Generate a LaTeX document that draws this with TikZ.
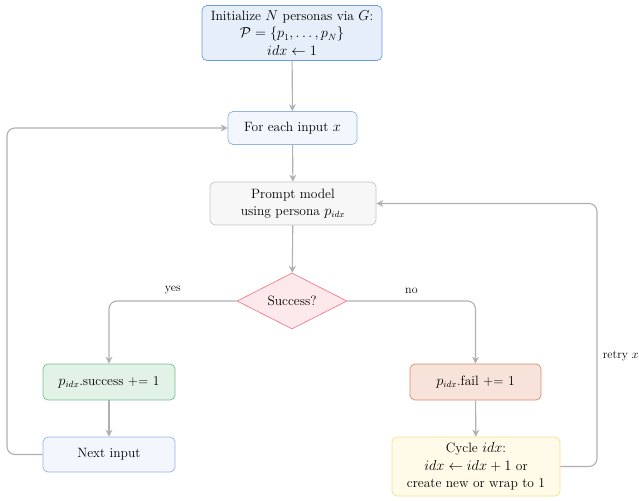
\documentclass[tikz,border=0pt]{standalone}
\usetikzlibrary{shapes.geometric,arrows.meta}
\definecolor{arr}{HTML}{B0B0B0}
\definecolor{initF}{HTML}{E6EEF9}\definecolor{initD}{HTML}{6A9AE0}
\definecolor{inF}{HTML}{F3F7FD}\definecolor{inD}{HTML}{90B4EA}
\definecolor{prF}{HTML}{F7F7F7}\definecolor{prD}{HTML}{C4C4C4}
\definecolor{dmF}{HTML}{FDE9EB}\definecolor{dmD}{HTML}{F27C8A}
\definecolor{suF}{HTML}{E3F2E7}\definecolor{suD}{HTML}{72C08E}
\definecolor{faF}{HTML}{F8E3DA}\definecolor{faD}{HTML}{D88A72}
\definecolor{cyF}{HTML}{FFFBE8}\definecolor{cyD}{HTML}{F5E08E}
\begin{document}
\begin{tikzpicture}[x=1pt,y=-1pt,
  box/.style={rounded corners=5pt,line width=0.7pt,align=center,inner sep=0pt,font=\fontsize{13.5}{17.5}\selectfont},
  flow/.style={draw=arr,line width=1.1pt,-{Stealth[length=7pt,width=7pt]}},
  lbl/.style={font=\fontsize{12}{14}\selectfont}]
\useasboundingbox (0,0) rectangle (639,500);
\node[box,fill=initF,draw=initD,minimum width=180pt,minimum height=55pt] (init) at (292,33)
  {Initialize $N$ personas via $G$:\\ $\mathcal{P}=\{p_1,\dots,p_N\}$\\ $idx\leftarrow 1$};
\node[box,fill=inF,draw=inD,minimum width=129pt,minimum height=33pt] (each) at (292.5,128) {For each input $x$};
\node[box,fill=prF,draw=prD,minimum width=166pt,minimum height=43pt] (prompt) at (293,203.5) {Prompt model\\ using persona $p_{idx}$};
\node[diamond,aspect=2,fill=dmF,draw=dmD,line width=0.7pt,minimum width=110pt,minimum height=56pt,inner sep=0pt,font=\fontsize{13.5}{17.5}\selectfont] (dec) at (292,301) {Success?};
\node[box,fill=suF,draw=suD,minimum width=132pt,minimum height=36pt] (succ) at (109,382) {$p_{idx}$.success += 1};
\node[box,fill=inF,draw=inD,minimum width=132pt,minimum height=35pt] (next) at (109,454.5) {Next input};
\node[box,fill=faF,draw=faD,minimum width=131pt,minimum height=36pt] (fail) at (475.5,382) {$p_{idx}$.fail += 1};
\node[box,fill=cyF,draw=cyD,minimum width=168pt,minimum height=59pt] (cyc) at (476,466.5) {Cycle $idx$:\\ $idx\leftarrow idx+1$ or\\ create new or wrap to 1};
\coordinate (lx) at (7,0);
\coordinate (rx) at (597,0);
\draw[flow] (init) -- (each);
\draw[flow] (each) -- (prompt);
\draw[flow] (prompt) -- (dec);
\draw[flow,rounded corners=8pt] (dec.west) -| node[lbl,pos=0.25,above=3pt]{yes} (succ.north);
\draw[flow,rounded corners=8pt] (dec.east) -| node[lbl,pos=0.25,above=3pt]{no} (fail.north);
\draw[flow] (succ) -- (next);
\draw[flow] (fail) -- (cyc);
\draw[flow,rounded corners=8pt] (next.west) -- (next.west -| lx) -- (each.west -| lx) -- (each.west);
\draw[flow,rounded corners=8pt] (cyc.east) -- (cyc.east -| rx) -- node[lbl,right=2pt,pos=0.42]{retry $x$} (prompt.east -| rx) -- (prompt.east);
\end{tikzpicture}
\end{document}
